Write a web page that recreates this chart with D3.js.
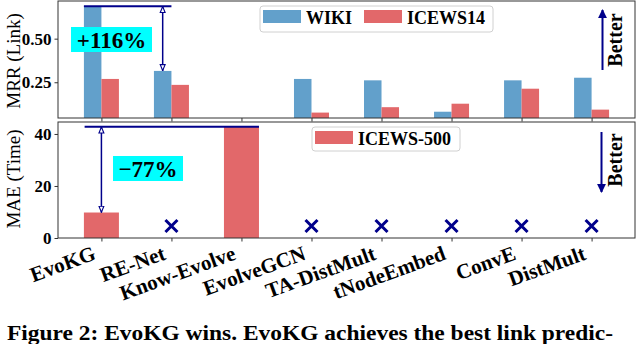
<!DOCTYPE html>
<html>
<head>
<meta charset="utf-8">
<script src="https://cdn.jsdelivr.net/npm/d3@7"></script>
<style>
  html, body { margin: 0; padding: 0; background: #fff; }
  svg { display: block; }
  text { font-family: "Liberation Serif", "Times New Roman", serif; }
</style>
</head>
<body>
<svg id="chart" width="640" height="344"></svg>
<script>
// data
const categories = ["EvoKG", "RE-Net", "Know-Evolve", "EvolveGCN", "TA-DistMult", "tNodeEmbed", "ConvE", "DistMult"];
const mrrWiki = [0.686, 0.315, null, 0.269, 0.261, 0.081, 0.261, 0.276];
const mrrIcews14 = [0.269, 0.235, null, 0.076, 0.107, 0.127, 0.213, 0.093];
const maeIcews500 = [9.8, null, 42.8, null, null, null, null, null];
const naMarkValue = 4.6; // height of the "x" for methods without time prediction
const topTicks = [0.25, 0.50];
const bottomTicks = [0, 20, 40];
const topSeries = ["WIKI", "ICEWS14"];
const bottomSeries = ["ICEWS-500"];

const BLUE = "#62a0cb", RED = "#e2686a", NAVY = "#00008b", AXIS = "#333";

const svg = d3.select("#chart");

const x = d3.scaleLinear().domain([-0.62, 7.62]).range([58, 635]);
const yTop = d3.scaleLinear().domain([0.045, 0.716]).range([118, 1]);
const yBot = d3.scaleLinear().domain([0, 44.6]).range([238, 122]);

// panel clip groups
function panel(id, y) {
  const [y0, y1] = y.range();
  svg.append("clipPath").attr("id", id)
    .append("rect").attr("x", x.range()[0]).attr("y", y1)
    .attr("width", x.range()[1] - x.range()[0]).attr("height", y0 - y1);
  return svg.append("g").attr("clip-path", `url(#${id})`);
}
const gTop = panel("clipTop", yTop);
const gBot = panel("clipBot", yBot);

// top bars
const bw = 0.25;
gTop.selectAll("rect.wiki")
  .data(mrrWiki.map((v, i) => ({ v, i })).filter(d => d.v != null))
  .join("rect")
  .attr("x", d => x(d.i - bw)).attr("width", x(bw) - x(0))
  .attr("y", d => yTop(d.v)).attr("height", d => yTop.range()[0] + 2 - yTop(d.v))
  .attr("fill", BLUE);
gTop.selectAll("rect.icews")
  .data(mrrIcews14.map((v, i) => ({ v, i })).filter(d => d.v != null))
  .join("rect")
  .attr("x", d => x(d.i)).attr("width", x(bw) - x(0))
  .attr("y", d => yTop(d.v)).attr("height", d => yTop.range()[0] + 2 - yTop(d.v))
  .attr("fill", RED);

// bottom bars
gBot.selectAll("rect.mae")
  .data(maeIcews500.map((v, i) => ({ v, i })).filter(d => d.v != null))
  .join("rect")
  .attr("x", d => x(d.i - 0.25)).attr("width", x(0.5) - x(0))
  .attr("y", d => yBot(d.v)).attr("height", d => yBot(0) - yBot(d.v))
  .attr("fill", RED);

// x markers for missing values
const xm = 6;
svg.append("g").selectAll("path")
  .data(maeIcews500.map((v, i) => ({ v, i })).filter(d => d.v == null))
  .join("path")
  .attr("d", d => {
    const cx = x(d.i), cy = yBot(naMarkValue);
    return `M${cx - xm},${cy - xm}L${cx + xm},${cy + xm}M${cx - xm},${cy + xm}L${cx + xm},${cy - xm}`;
  })
  .attr("stroke", NAVY).attr("stroke-width", 3).attr("fill", "none");

// frames
[yTop, yBot].forEach(y => {
  svg.append("rect")
    .attr("x", x.range()[0]).attr("y", y.range()[1])
    .attr("width", x.range()[1] - x.range()[0]).attr("height", y.range()[0] - y.range()[1])
    .attr("fill", "none").attr("stroke", AXIS).attr("stroke-width", 1);
});

// axes
function styleAxis(g, size) {
  g.select(".domain").remove();
  g.selectAll(".tick line").attr("stroke", AXIS);
  g.selectAll(".tick text").attr("font-family", "Liberation Serif, serif")
    .attr("font-weight", "bold").attr("font-size", size).attr("fill", "#000");
}
svg.append("g").attr("transform", `translate(${x.range()[0]},0)`)
  .call(d3.axisLeft(yTop).tickValues(topTicks).tickFormat(d3.format(".2f")).tickSizeOuter(0).tickSize(3.5).tickPadding(3))
  .call(g => styleAxis(g, 17));
svg.append("g").attr("transform", `translate(${x.range()[0]},0)`)
  .call(d3.axisLeft(yBot).tickValues(bottomTicks).tickFormat(d3.format("d")).tickSizeOuter(0).tickSize(3.5).tickPadding(3))
  .call(g => styleAxis(g, 17));
svg.append("g").attr("transform", `translate(0,${yTop.range()[0]})`)
  .call(d3.axisBottom(x).tickValues(d3.range(categories.length)).tickFormat("").tickSize(3.5).tickSizeOuter(0))
  .call(g => styleAxis(g, 17));
const xAxisB = svg.append("g").attr("transform", `translate(0,${yBot.range()[0]})`)
  .call(d3.axisBottom(x).tickValues(d3.range(categories.length)).tickFormat(i => categories[i]).tickSize(3.5).tickSizeOuter(0))
  .call(g => styleAxis(g, 21));
xAxisB.selectAll(".tick text")
  .attr("text-anchor", "end").attr("dy", null).attr("y", 0)
  .attr("transform", "translate(-5,21) rotate(-20)");

// y labels
svg.append("text").attr("transform", "translate(20,61) rotate(-90)")
  .attr("text-anchor", "middle").attr("font-size", 19).text("MRR (Link)");
svg.append("text").attr("transform", "translate(20,179) rotate(-90)")
  .attr("text-anchor", "middle").attr("font-size", 19).text("MAE (Time)");

// legends
function legend(g, names, colors, box, xs) {
  g.append("rect").attr("x", box[0]).attr("y", box[1]).attr("width", box[2]).attr("height", box[3])
    .attr("rx", 3).attr("fill", "#fff").attr("fill-opacity", 0.85).attr("stroke", "#d0d0d0");
  names.forEach((n, k) => {
    g.append("rect").attr("x", xs[k]).attr("y", box[1] + 4).attr("width", 38).attr("height", 13).attr("fill", colors[k]);
    g.append("text").attr("x", xs[k] + 43).attr("y", box[1] + 18)
      .attr("font-weight", "bold").attr("font-size", 18).text(n);
  });
}
legend(svg.append("g"), topSeries, [BLUE, RED], [260, 6, 233, 26], [263, 364]);
legend(svg.append("g"), bottomSeries, [RED], [312, 127, 148, 24], [315]);

// arrows
const defs = svg.append("defs");
defs.append("marker").attr("id", "open").attr("viewBox", "0 0 10 10").attr("refX", 10).attr("refY", 5)
  .attr("markerWidth", 7).attr("markerHeight", 7).attr("markerUnits", "userSpaceOnUse").attr("orient", "auto-start-reverse")
  .append("path").attr("d", "M1,1.5L9.5,5L1,8.5Z").attr("fill", "#fff").attr("stroke", NAVY).attr("stroke-width", 1.6);
defs.append("marker").attr("id", "solid").attr("viewBox", "0 0 10 10").attr("refX", 9).attr("refY", 5)
  .attr("markerWidth", 9).attr("markerHeight", 9).attr("markerUnits", "userSpaceOnUse").attr("orient", "auto")
  .append("path").attr("d", "M0,0L10,5L0,10Z").attr("fill", NAVY);

function gain(y, vHi, vLo, xStart, xEnd, xArrow, label, lbox) {
  svg.append("line").attr("x1", xStart).attr("x2", xEnd).attr("y1", y(vHi)).attr("y2", y(vHi))
    .attr("stroke", NAVY).attr("stroke-width", 2);
  svg.append("line").attr("x1", xArrow).attr("x2", xArrow).attr("y1", y(vHi)).attr("y2", y(vLo))
    .attr("stroke", NAVY).attr("stroke-width", 1.5)
    .attr("marker-start", "url(#open)").attr("marker-end", "url(#open)");
  svg.append("rect").attr("x", lbox[0]).attr("y", lbox[1]).attr("width", lbox[2]).attr("height", lbox[3]).attr("fill", "#00ffff");
  svg.append("text").attr("x", lbox[0] + lbox[2] / 2).attr("y", lbox[1] + lbox[3] / 2 + 8)
    .attr("text-anchor", "middle").attr("font-weight", "bold").attr("font-size", 23).text(label);
}
gain(yTop, mrrWiki[0], mrrWiki[1], x(-0.25), x(1), x(0.875), "+116%", [71, 27, 81, 25]);
gain(yBot, maeIcews500[2], maeIcews500[0], x(-0.24), x(2.25), x(0), "\u221277%", [113, 156, 70, 25]);

function better(x0, y0, y1, ty) {
  svg.append("line").attr("x1", x0).attr("x2", x0).attr("y1", y0).attr("y2", y1)
    .attr("stroke", NAVY).attr("stroke-width", 2).attr("marker-end", "url(#solid)");
  svg.append("text").attr("transform", `translate(622,${ty}) rotate(-90)`)
    .attr("text-anchor", "middle").attr("font-weight", "bold").attr("font-size", 20).text("Better");
}
better(602.5, 70, 10, 40);
better(601.5, 132, 192, 160);

// caption
svg.append("text").attr("x", 7).attr("y", 340).attr("font-weight", "bold").attr("font-size", 22)
  .attr("textLength", 606).attr("lengthAdjust", "spacingAndGlyphs")
  .text("Figure 2: EvoKG wins. EvoKG achieves the best link predic-");
</script>
</body>
</html>
